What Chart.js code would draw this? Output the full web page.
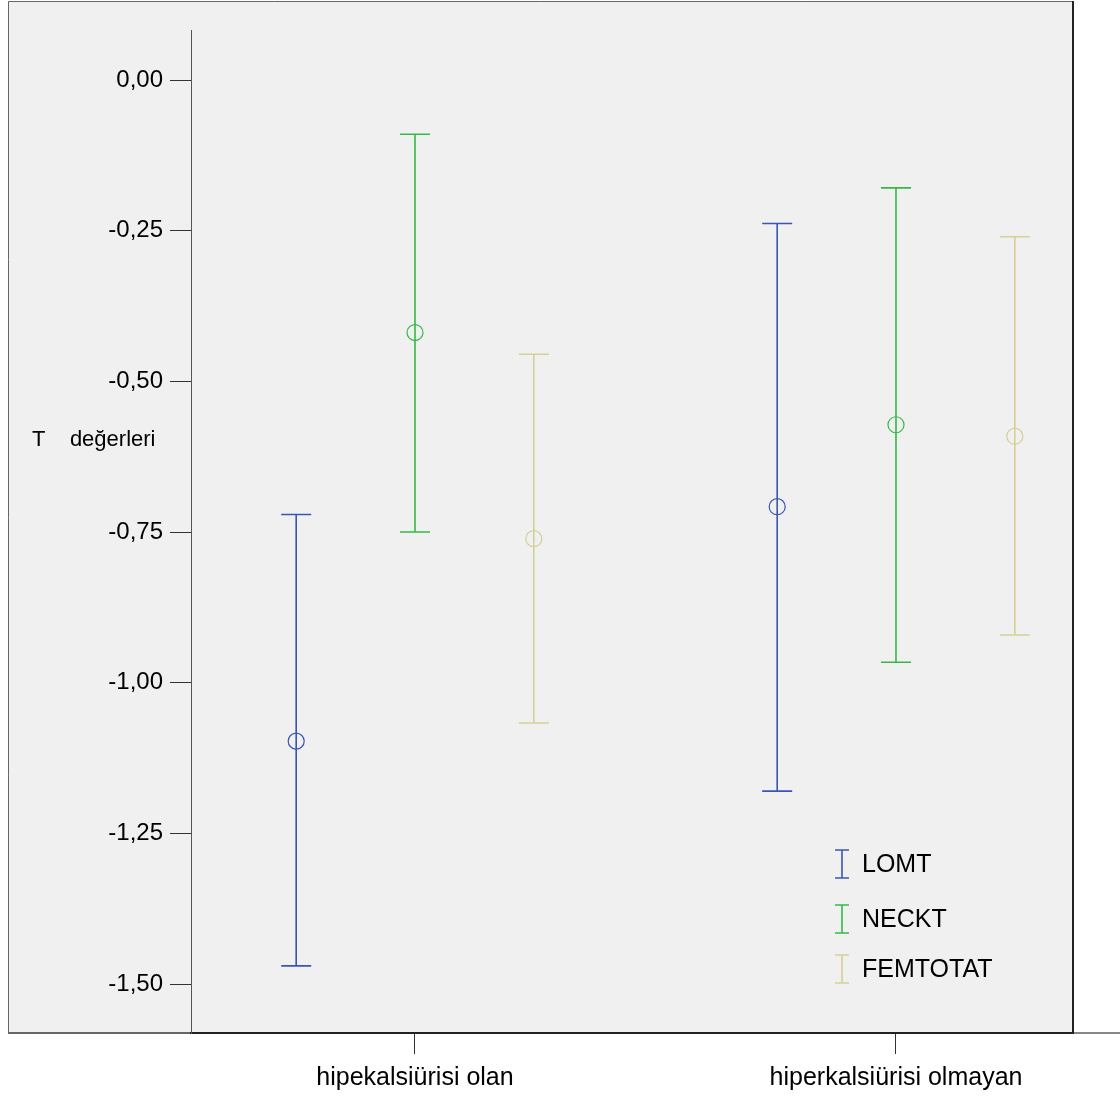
<!DOCTYPE html>
<html>
<head>
<meta charset="utf-8">
<script src="https://cdn.jsdelivr.net/npm/chart.js@4.4.0/dist/chart.umd.min.js"></script>
<style>
  html, body { margin: 0; padding: 0; background: #fff; }
  #wrap { width: 1120px; height: 1097px; }
</style>
</head>
<body>
<div id="wrap"><canvas id="chart" width="1120" height="1097"></canvas></div>
<script>
// categories and series
var categories = ['hipekalsiürisi olan', 'hiperkalsiürisi olmayan'];
var seriesNames = ['LOMT', 'NECKT', 'FEMTOTAT'];
var seriesColors = ['#3a56b2', '#34b946', '#d5cf98'];
var xOffsets = [-0.247, 0, 0.247];

// means and 95% CI bounds, per category
var lomtMean = [-1.097, -0.708];
var lomtUpper = [-0.721, -0.238];
var lomtLower = [-1.470, -1.180];
var necktMean = [-0.419, -0.572];
var necktUpper = [-0.090, -0.179];
var necktLower = [-0.750, -0.966];
var femMean = [-0.761, -0.591];
var femUpper = [-0.455, -0.260];
var femLower = [-1.067, -0.921];

var yTicks = [0, -0.25, -0.5, -0.75, -1, -1.25, -1.5];
var yTickLabels = ['0,00', '-0,25', '-0,50', '-0,75', '-1,00', '-1,25', '-1,50'];
var yTitle = 'T    değerleri';

var means = [lomtMean, necktMean, femMean];
var uppers = [lomtUpper, necktUpper, femUpper];
var lowers = [lomtLower, necktLower, femLower];

var FONT = '"Liberation Sans", Arial, sans-serif';

var datasets = seriesNames.map(function (name, s) {
  return {
    label: name,
    data: categories.map(function (c, i) {
      return { x: i + 1 + xOffsets[s], y: means[s][i], hi: uppers[s][i], lo: lowers[s][i] };
    }),
    pointStyle: 'circle',
    pointRadius: 8,
    pointHoverRadius: 8,
    pointBorderWidth: 1.2,
    borderColor: seriesColors[s],
    backgroundColor: 'rgba(0,0,0,0)',
    showLine: false
  };
});

// panel background + frame
var panelPlugin = {
  id: 'panel',
  beforeDraw: function (chart) {
    var ctx = chart.ctx;
    var a = chart.chartArea;
    ctx.save();
    ctx.fillStyle = '#fff';
    ctx.fillRect(0, 0, chart.width, chart.height);
    ctx.fillStyle = '#f0f0f0';
    ctx.fillRect(8, 1, a.right - 8, a.bottom - 1);
    ctx.strokeStyle = '#666';
    ctx.lineWidth = 1;
    ctx.beginPath();
    ctx.moveTo(8.5, a.bottom);
    ctx.lineTo(8.5, 1.5);
    ctx.lineTo(a.right, 1.5);
    ctx.stroke();
    ctx.strokeStyle = '#222';
    ctx.lineWidth = 2;
    ctx.beginPath();
    ctx.moveTo(a.right, 1);
    ctx.lineTo(a.right, a.bottom);
    ctx.stroke();
    ctx.strokeStyle = '#666';
    ctx.beginPath();
    ctx.moveTo(8, a.bottom);
    ctx.lineTo(a.left, a.bottom);
    ctx.stroke();
    ctx.strokeStyle = '#888';
    ctx.beginPath();
    ctx.moveTo(a.right, a.bottom);
    ctx.lineTo(chart.width, a.bottom);
    ctx.stroke();
    ctx.restore();
  },
  afterDraw: function (chart) {
    var ctx = chart.ctx;
    var y = chart.scales.y;
    ctx.save();
    ctx.fillStyle = '#000';
    ctx.font = '22px ' + FONT;
    ctx.textBaseline = 'middle';
    ctx.textAlign = 'left';
    ctx.fillText(yTitle, 32, y.getPixelForValue(-0.597));
    ctx.restore();
  }
};

// error bars drawn through the scales
var errorBarPlugin = {
  id: 'errorBars',
  afterDatasetsDraw: function (chart) {
    var ctx = chart.ctx;
    var xs = chart.scales.x, ys = chart.scales.y;
    ctx.save();
    ctx.lineWidth = 1.6;
    chart.data.datasets.forEach(function (ds) {
      ctx.strokeStyle = ds.borderColor;
      ds.data.forEach(function (p) {
        var px = xs.getPixelForValue(p.x);
        var ph = ys.getPixelForValue(p.hi);
        var pl = ys.getPixelForValue(p.lo);
        ctx.beginPath();
        ctx.moveTo(px, ph); ctx.lineTo(px, pl);
        ctx.moveTo(px - 15, ph); ctx.lineTo(px + 15, ph);
        ctx.moveTo(px - 15, pl); ctx.lineTo(px + 15, pl);
        ctx.stroke();
      });
    });
    ctx.restore();
  }
};

// in-panel legend with I-beam symbols
var legendPlugin = {
  id: 'ibeamLegend',
  afterDraw: function (chart) {
    var ctx = chart.ctx;
    var rows = [864, 919, 969];
    ctx.save();
    ctx.font = '25px ' + FONT;
    ctx.textBaseline = 'middle';
    ctx.lineWidth = 1.6;
    seriesNames.forEach(function (name, s) {
      var cy = rows[s];
      ctx.strokeStyle = seriesColors[s];
      ctx.beginPath();
      ctx.moveTo(842, cy - 14); ctx.lineTo(842, cy + 14);
      ctx.moveTo(835, cy - 14); ctx.lineTo(849, cy - 14);
      ctx.moveTo(835, cy + 14); ctx.lineTo(849, cy + 14);
      ctx.stroke();
      ctx.fillStyle = '#000';
      ctx.fillText(name, 862, cy + 1);
    });
    ctx.restore();
  }
};

new Chart(document.getElementById('chart').getContext('2d'), {
  type: 'scatter',
  data: { datasets: datasets },
  plugins: [panelPlugin, errorBarPlugin, legendPlugin],
  options: {
    responsive: false,
    animation: false,
    events: [],
    layout: { padding: { left: 0, top: 30, right: 47, bottom: 0 } },
    plugins: { legend: { display: false }, tooltip: { enabled: false } },
    scales: {
      x: {
        type: 'linear',
        min: 0.5343,
        max: 2.368,
        afterBuildTicks: function (scale) {
          scale.ticks = categories.map(function (c, i) { return { value: i + 1 }; });
        },
        afterFit: function (scale) { scale.height = 64; },
        ticks: {
          autoSkip: false,
          maxRotation: 0,
          padding: 9,
          color: '#000',
          font: { family: FONT, size: 25 },
          callback: function (v) { return categories[Math.round(v) - 1]; }
        },
        grid: { drawOnChartArea: false, drawTicks: true, tickLength: 21, color: '#333', lineWidth: 1 },
        border: { display: true, color: '#222', width: 2 }
      },
      y: {
        type: 'linear',
        min: -1.5813,
        max: 0.083,
        afterBuildTicks: function (scale) {
          scale.ticks = yTicks.map(function (v) { return { value: v }; });
        },
        afterFit: function (scale) { scale.width = 191; },
        ticks: {
          autoSkip: false,
          padding: 7,
          color: '#000',
          font: { family: FONT, size: 24 },
          callback: function (v) { return yTickLabels[yTicks.indexOf(v)]; }
        },
        grid: { drawOnChartArea: false, drawTicks: true, tickLength: 21, color: '#333', lineWidth: 1 },
        border: { display: true, color: '#555', width: 1 }
      }
    }
  }
});
</script>
</body>
</html>
